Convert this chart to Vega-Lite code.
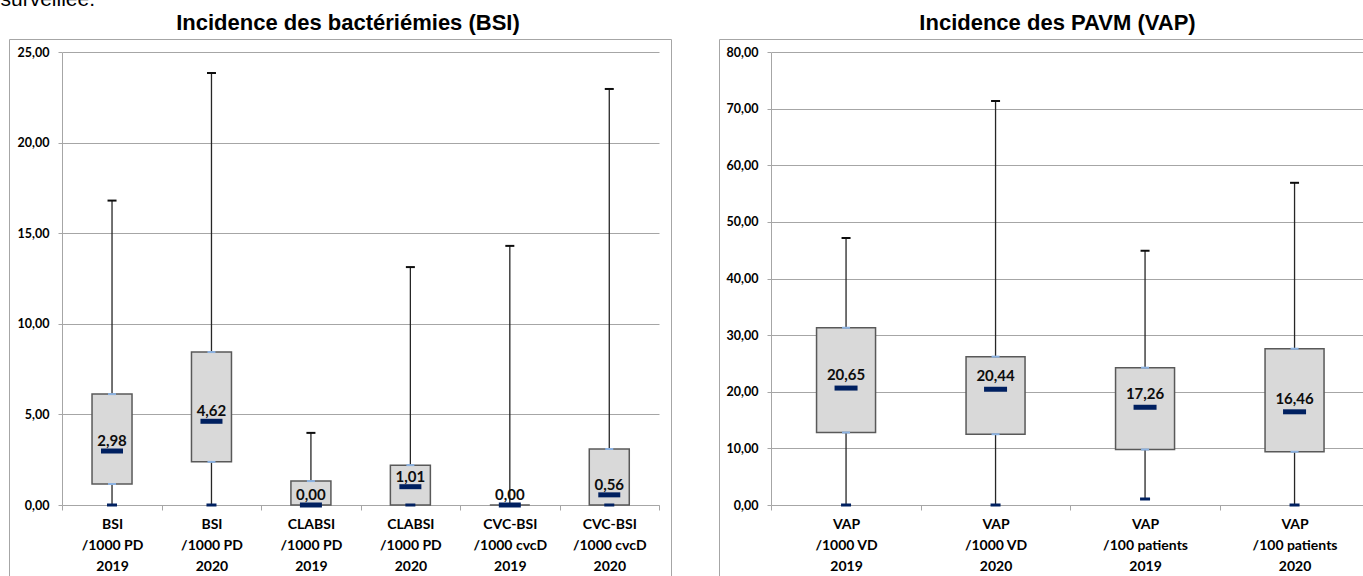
{
  "$schema": "https://vega.github.io/schema/vega-lite/v6.json",
  "padding": {"left": 0, "top": -12, "right": 0, "bottom": 0},
  "background": "#ffffff",
  "title": {
    "text": "surveillée.",
    "anchor": "start",
    "dx": -8,
    "offset": 2,
    "font": "Liberation Sans",
    "fontSize": 21,
    "fontWeight": "normal",
    "color": "#000000"
  },
  "spacing": 46,
  "hconcat": [
    {
      "title": {
        "text": "Incidence des bactériémies (BSI)",
        "dx": 8,
        "offset": 4
      },
      "width": 662,
      "height": 537,
      "data": {
        "values": [
          {"cat": "BSI|/1000 PD|2019", "min": 0, "q1": 1.16, "median": 2.98, "q3": 6.12, "max": 16.8},
          {"cat": "BSI|/1000 PD|2020", "min": 0, "q1": 2.38, "median": 4.62, "q3": 8.44, "max": 23.84},
          {"cat": "CLABSI|/1000 PD|2019", "min": 0, "q1": 0, "median": 0, "q3": 1.32, "max": 3.98},
          {"cat": "CLABSI|/1000 PD|2020", "min": 0, "q1": 0, "median": 1.01, "q3": 2.2, "max": 13.13},
          {"cat": "CVC-BSI|/1000 cvcD|2019", "min": 0, "q1": 0, "median": 0, "q3": 0, "max": 14.3},
          {"cat": "CVC-BSI|/1000 cvcD|2020", "min": 0, "q1": 0, "median": 0.56, "q3": 3.09, "max": 22.96}
        ]
      },
      "encoding": {
        "x": {
          "field": "cat",
          "type": "nominal",
          "sort": null,
          "scale": {"range": [53.3, 650], "paddingInner": 0, "paddingOuter": 0},
          "axis": {"offset": -71}
        }
      },
      "layer": [
        {
          "mark": {"type": "rule", "color": "#262626", "strokeWidth": 1.3},
          "encoding": {
            "y": {
              "field": "min",
              "type": "quantitative",
              "scale": {"domain": [0, 25], "range": [466, 13], "nice": false, "zero": false},
              "axis": {"values": [0, 5, 10, 15, 20, 25], "offset": -53}
            },
            "y2": {"field": "max"}
          }
        },
        {
          "mark": {"type": "bar", "size": 40, "fill": "#d9d9d9", "stroke": "#595959", "strokeWidth": 1.5, "orient": "vertical", "opacity": 1},
          "encoding": {"y": {"field": "q1", "type": "quantitative"}, "y2": {"field": "q3"}}
        },
        {
          "mark": {"type": "tick", "orient": "horizontal", "size": 8, "thickness": 2, "color": "#8db3e2", "opacity": 1},
          "encoding": {"y": {"field": "q3", "type": "quantitative"}}
        },
        {
          "mark": {"type": "tick", "orient": "horizontal", "size": 8, "thickness": 2, "color": "#8db3e2", "opacity": 1},
          "encoding": {"y": {"field": "q1", "type": "quantitative"}}
        },
        {
          "mark": {"type": "tick", "orient": "horizontal", "size": 9, "thickness": 2, "color": "#0d0d0d", "opacity": 1},
          "encoding": {"y": {"field": "max", "type": "quantitative"}}
        },
        {
          "mark": {"type": "tick", "orient": "horizontal", "size": 10, "thickness": 3, "color": "#002060", "opacity": 1},
          "encoding": {"y": {"field": "min", "type": "quantitative"}}
        },
        {
          "mark": {"type": "tick", "orient": "horizontal", "size": 22, "thickness": 5, "color": "#002060", "opacity": 1},
          "encoding": {"y": {"field": "median", "type": "quantitative"}}
        },
        {
          "mark": {"type": "text", "baseline": "alphabetic", "dy": -5, "font": "Lato", "fontWeight": "bold", "fontSize": 15, "color": "#0d0d0d"},
          "encoding": {
            "y": {"field": "median", "type": "quantitative"},
            "text": {"field": "median", "type": "quantitative", "format": ".2f"}
          }
        }
      ]
    },
    {
      "title": {
        "text": "Incidence des PAVM (VAP)",
        "dx": 15,
        "offset": 4
      },
      "width": 647,
      "height": 537,
      "data": {
        "values": [
          {"cat": "VAP|/1000 VD|2019", "min": 0, "q1": 12.8, "median": 20.65, "q3": 31.3, "max": 47.15},
          {"cat": "VAP|/1000 VD|2020", "min": 0, "q1": 12.5, "median": 20.44, "q3": 26.2, "max": 71.35},
          {"cat": "VAP|/100 patients|2019", "min": 1.06, "q1": 9.8, "median": 17.26, "q3": 24.25, "max": 44.9},
          {"cat": "VAP|/100 patients|2020", "min": 0, "q1": 9.4, "median": 16.46, "q3": 27.6, "max": 56.9}
        ]
      },
      "encoding": {
        "x": {
          "field": "cat",
          "type": "nominal",
          "sort": null,
          "scale": {"range": [52.3, 650.3], "paddingInner": 0, "paddingOuter": 0},
          "axis": {"offset": -71}
        }
      },
      "layer": [
        {
          "mark": {"type": "rule", "color": "#262626", "strokeWidth": 1.3},
          "encoding": {
            "y": {
              "field": "min",
              "type": "quantitative",
              "scale": {"domain": [0, 80], "range": [466, 13], "nice": false, "zero": false},
              "axis": {"values": [0, 10, 20, 30, 40, 50, 60, 70, 80], "offset": -52}
            },
            "y2": {"field": "max"}
          }
        },
        {
          "mark": {"type": "bar", "size": 59, "fill": "#d9d9d9", "stroke": "#595959", "strokeWidth": 1.5, "orient": "vertical", "opacity": 1},
          "encoding": {"y": {"field": "q1", "type": "quantitative"}, "y2": {"field": "q3"}}
        },
        {
          "mark": {"type": "tick", "orient": "horizontal", "size": 8, "thickness": 2, "color": "#8db3e2", "opacity": 1},
          "encoding": {"y": {"field": "q3", "type": "quantitative"}}
        },
        {
          "mark": {"type": "tick", "orient": "horizontal", "size": 8, "thickness": 2, "color": "#8db3e2", "opacity": 1},
          "encoding": {"y": {"field": "q1", "type": "quantitative"}}
        },
        {
          "mark": {"type": "tick", "orient": "horizontal", "size": 9, "thickness": 2, "color": "#0d0d0d", "opacity": 1},
          "encoding": {"y": {"field": "max", "type": "quantitative"}}
        },
        {
          "mark": {"type": "tick", "orient": "horizontal", "size": 10, "thickness": 3, "color": "#002060", "opacity": 1},
          "encoding": {"y": {"field": "min", "type": "quantitative"}}
        },
        {
          "mark": {"type": "tick", "orient": "horizontal", "size": 23, "thickness": 5, "color": "#002060", "opacity": 1},
          "encoding": {"y": {"field": "median", "type": "quantitative"}}
        },
        {
          "mark": {"type": "text", "baseline": "alphabetic", "dy": -8, "font": "Lato", "fontWeight": "bold", "fontSize": 15, "color": "#0d0d0d"},
          "encoding": {
            "y": {"field": "median", "type": "quantitative"},
            "text": {"field": "median", "type": "quantitative", "format": ".2f"}
          }
        }
      ]
    }
  ],
  "config": {
    "locale": {
      "number": {"decimal": ",", "thousands": "\u00a0", "grouping": [3], "currency": ["", "\u00a0€"]}
    },
    "view": {"stroke": "#a6a6a6", "strokeWidth": 1},
    "title": {
      "font": "Liberation Sans Narrow, Liberation Sans",
      "fontSize": 22,
      "fontWeight": "bold",
      "color": "#000000",
      "anchor": "middle"
    },
    "axisX": {
      "title": null,
      "labelAngle": 0,
      "labelExpr": "split(datum.label, '|')",
      "tickBand": "extent",
      "grid": false,
      "domainColor": "#a6a6a6",
      "tickColor": "#a6a6a6",
      "tickSize": 5,
      "labelFont": "Lato",
      "labelFontWeight": "bold",
      "labelFontSize": 14,
      "labelColor": "#000000",
      "labelLineHeight": 21,
      "labelPadding": 7
    },
    "axisY": {
      "title": null,
      "format": ".2f",
      "grid": true,
      "gridColor": "#a6a6a6",
      "domainColor": "#a6a6a6",
      "tickColor": "#a6a6a6",
      "tickSize": 4,
      "labelFont": "Lato",
      "labelFontWeight": "bold",
      "labelFontSize": 12.5,
      "labelColor": "#000000",
      "labelPadding": 9
    }
  }
}
